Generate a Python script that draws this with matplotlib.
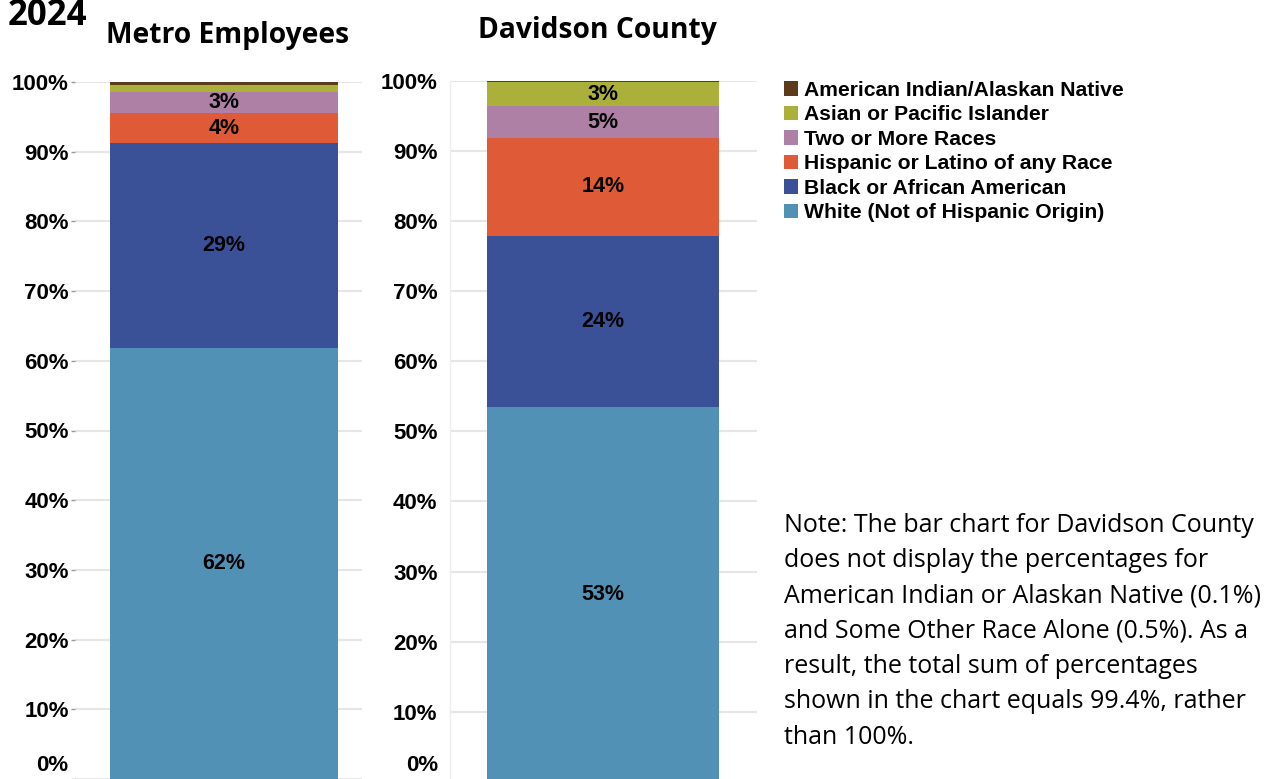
import matplotlib
matplotlib.use("Agg")
import matplotlib.pyplot as plt
from matplotlib.patches import Patch

# ---- data ----
groups = ["Metro Employees", "Davidson County"]
categories = ["White (Not of Hispanic Origin)", "Black or African American",
              "Hispanic or Latino of any Race", "Two or More Races",
              "Asian or Pacific Islander", "American Indian/Alaskan Native"]
metro_values = [61.8, 29.4, 4.3, 3.0, 1.1, 0.4]
davidson_values = [53.5, 24.4, 13.9, 4.6, 3.4, 0.1]
metro_labels = ["62%", "29%", "4%", "3%", "", ""]
davidson_labels = ["53%", "24%", "14%", "5%", "3%", ""]
yticks = [0, 10, 20, 30, 40, 50, 60, 70, 80, 90, 100]
ytick_labels = [f"{v}%" for v in yticks]
colors = ["#5191B5", "#3B5197", "#DF5A37", "#AF80A5", "#AAB03A", "#5E3A1C"]
year = "2024"
note = ("Note: The bar chart for Davidson County\n"
        "does not display the percentages for\n"
        "American Indian or Alaskan Native (0.1%)\n"
        "and Some Other Race Alone (0.5%). As a\n"
        "result, the total sum of percentages\n"
        "shown in the chart equals 99.4%, rather\n"
        "than 100%.")

W, H = 1273, 779
fig = plt.figure(figsize=(W / 100, H / 100), dpi=100)

def fx(px):
    return px / W

def fy(py):
    return (H - py) / H

lab_font = dict(family="Liberation Sans", weight="bold")
TICK_FS = 16

def draw(ax, values, labels, xlim, show_ticks, spine, label_right_px):
    bottom = 0
    for v, c, lab in zip(values, colors, labels):
        ax.bar(0, v, bottom=bottom, width=0.8, color=c, zorder=3, linewidth=0)
        if lab:
            ax.text(0, bottom + v / 2, lab, ha="center", va="center",
                    fontsize=15.5, color="black", zorder=4, **lab_font)
        bottom += v
    ax.set_xlim(*xlim)
    ax.set_ylim(0, 100)
    ax.set_yticks(yticks)
    # the 0% label is drawn separately, lifted so it stays inside the figure
    ax.set_yticklabels([""] + ytick_labels[1:], fontsize=TICK_FS, **lab_font)
    ax.set_xticks([])
    ax.grid(axis="y", color="#E6E6E6", linewidth=1.5, zorder=0)
    for s in ["top", "right", "bottom"]:
        ax.spines[s].set_visible(False)
    if spine:
        ax.spines["left"].set_color("#EEEEEE")
        ax.spines["left"].set_linewidth(1.0)
    else:
        ax.spines["left"].set_visible(False)
    if show_ticks:
        ax.tick_params(axis="y", length=3, width=1, color="#999999", pad=1.5)
    else:
        ax.tick_params(axis="y", length=0, pad=9)
    fig.text(fx(label_right_px), fy(776), ytick_labels[0], ha="right",
             va="bottom", fontsize=TICK_FS, **lab_font)

ax1 = fig.add_axes([fx(75), fy(779), fx(362 - 75), fy(82) - fy(779)])
draw(ax1, metro_values, metro_labels, (-0.523, 0.484), True, False, 68)

ax2 = fig.add_axes([fx(450), fy(782), fx(757 - 450), fy(80.7) - fy(782)])
draw(ax2, davidson_values, davidson_labels, (-0.528, 0.531), False, True, 438)

title_font = dict(family="Open Sans", weight="bold", fontsize=20.3)
fig.text(fx(227.5), fy(43), groups[0], ha="center", va="baseline", **title_font)
fig.text(fx(597), fy(38), groups[1], ha="center", va="baseline", **title_font)
fig.text(fx(8), fy(25), year, ha="left", va="baseline",
         family="Open Sans", weight="bold", fontsize=25)

handles = [Patch(facecolor=c, edgecolor="none") for c in colors][::-1]
leg = fig.legend(handles, categories[::-1], loc="upper left",
                 bbox_to_anchor=(fx(784), fy(81)), frameon=False,
                 borderpad=0, borderaxespad=0, handlelength=0.66,
                 handleheight=0.66, handletextpad=0.3, labelspacing=0.26,
                 prop=dict(family="Liberation Sans", weight="bold", size=15.2))

fig.text(fx(784), fy(513), note, ha="left", va="top", family="Open Sans",
         fontsize=18, linespacing=1.54)

fig.savefig("out.png", dpi=100)
